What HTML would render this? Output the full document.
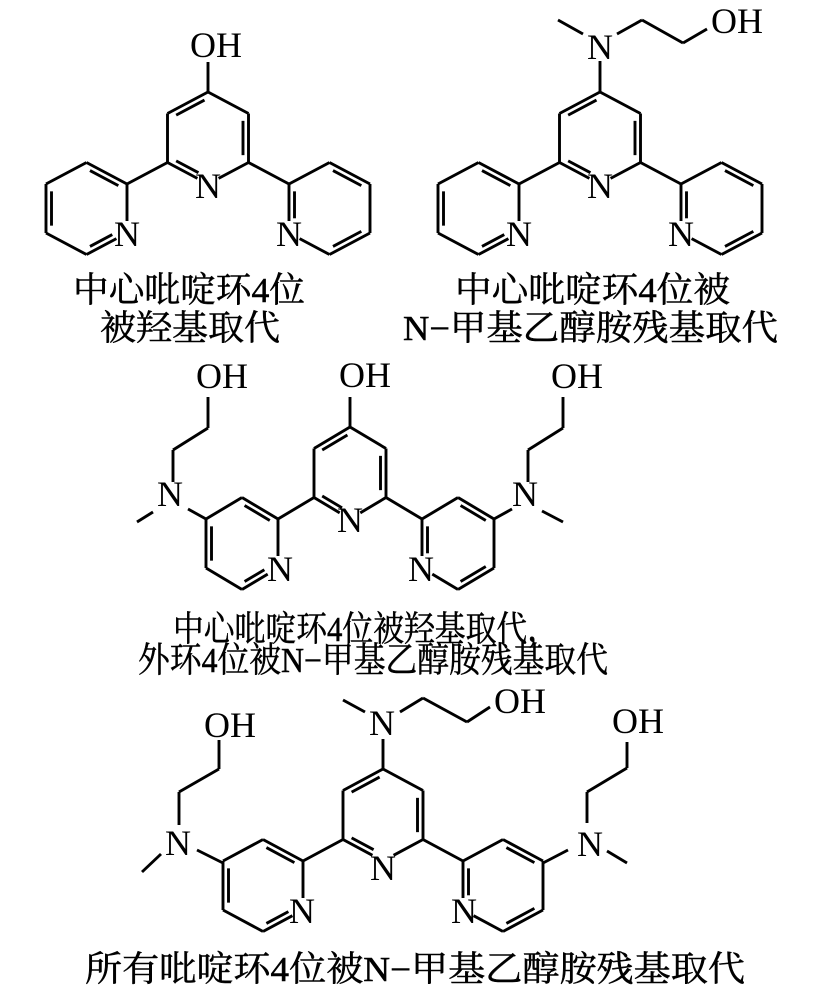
<!DOCTYPE html>
<html><head><meta charset="utf-8"><style>
html,body{margin:0;padding:0;background:#fff;}
svg{display:block;}
.a{font-family:"Liberation Serif",serif;font-size:36px;fill:#000;}
.t{font-family:"Liberation Serif","Noto Serif CJK SC",serif;font-size:35px;fill:#000;stroke:#000;stroke-width:0.5px;}
</style></head><body>
<svg id="s" width="838" height="1000" viewBox="0 0 838 1000" xmlns="http://www.w3.org/2000/svg">
<g id="b" stroke="#000" stroke-width="2.9" fill="none" stroke-linecap="butt"></g>
<!-- mol1 -->
<text class="a" x="190" y="57">OH</text>
<text class="a" x="208" y="198" text-anchor="middle">N</text>
<text class="a" x="127" y="246" text-anchor="middle">N</text>
<text class="a" x="289" y="246" text-anchor="middle">N</text>
<text class="t" x="73" y="302" textLength="232" lengthAdjust="spacingAndGlyphs">中心吡啶环4位</text>
<text class="t" x="100" y="340" textLength="180" lengthAdjust="spacingAndGlyphs">被羟基取代</text>
<!-- mol2 -->
<text class="a" x="600" y="59" text-anchor="middle">N</text>
<text class="a" x="711" y="33">OH</text>
<text class="a" x="600" y="198" text-anchor="middle">N</text>
<text class="a" x="519" y="246" text-anchor="middle">N</text>
<text class="a" x="681" y="246" text-anchor="middle">N</text>
<text class="t" x="455" y="302" textLength="275" lengthAdjust="spacingAndGlyphs">中心吡啶环4位被</text>
<text class="t" x="403" y="340" textLength="375" lengthAdjust="spacingAndGlyphs">N−甲基乙醇胺残基取代</text>
<!-- mol3 -->
<text class="a" x="339" y="387">OH</text>
<text class="a" x="196" y="388">OH</text>
<text class="a" x="551" y="388">OH</text>
<text class="a" x="170" y="506" text-anchor="middle">N</text>
<text class="a" x="525" y="506" text-anchor="middle">N</text>
<text class="a" x="350" y="532" text-anchor="middle">N</text>
<text class="a" x="280" y="581" text-anchor="middle">N</text>
<text class="a" x="421" y="581" text-anchor="middle">N</text>
<text class="t" x="173" y="641" textLength="385" lengthAdjust="spacingAndGlyphs">中心吡啶环4位被羟基取代，</text>
<text class="t" x="138" y="672" textLength="470" lengthAdjust="spacingAndGlyphs">外环4位被N−甲基乙醇胺残基取代</text>
<!-- mol4 -->
<text class="a" x="382" y="735" text-anchor="middle">N</text>
<text class="a" x="494" y="713">OH</text>
<text class="a" x="204" y="737">OH</text>
<text class="a" x="612" y="733">OH</text>
<text class="a" x="178" y="855" text-anchor="middle">N</text>
<text class="a" x="590" y="856" text-anchor="middle">N</text>
<text class="a" x="383" y="880" text-anchor="middle">N</text>
<text class="a" x="302" y="923" text-anchor="middle">N</text>
<text class="a" x="464" y="923" text-anchor="middle">N</text>
<text class="t" x="85" y="981" textLength="660" lengthAdjust="spacingAndGlyphs">所有吡啶环4位被N−甲基乙醇胺残基取代</text>
</svg>
<script>
var g=document.getElementById('b');
function L(x1,y1,x2,y2){var l=document.createElementNS('http://www.w3.org/2000/svg','line');
l.setAttribute('x1',x1);l.setAttribute('y1',y1);l.setAttribute('x2',x2);l.setAttribute('y2',y2);g.appendChild(l);}
function P(a){for(var i=0;i<a.length-2;i+=2)L(a[i],a[i+1],a[i+2],a[i+3]);}
function sh(a,b,d){var dx=b[0]-a[0],dy=b[1]-a[1],l=Math.hypot(dx,dy);return [a[0]+dx/l*d,a[1]+dy/l*d];}
function ring(p,nI,dbl){
 var cx=0,cy=0;p.forEach(function(q){cx+=q[0]/6;cy+=q[1]/6;});
 for(var i=0;i<6;i++){var a=p[i],b=p[(i+1)%6];
  var A=(i==nI)?sh(a,b,12):a,B=((i+1)%6==nI)?sh(b,a,12):b;L(A[0],A[1],B[0],B[1]);
  if(dbl.indexOf(i)>=0){
   var dx=b[0]-a[0],dy=b[1]-a[1],l=Math.hypot(dx,dy),nx=-dy/l,ny=dx/l;
   var mx=(a[0]+b[0])/2-cx,my=(a[1]+b[1])/2-cy;if(nx*mx+ny*my>0){nx=-nx;ny=-ny;}
   var o=5.5,s1=(i==nI)?0.3:0.15,s2=((i+1)%6==nI)?0.3:0.15;
   L(a[0]+dx*s1+nx*o,a[1]+dy*s1+ny*o,b[0]-dx*s2+nx*o,b[1]-dy*s2+ny*o);}
 }}
function terpy(x,y,dx,dy,v){
 var C4=[x,y],C3=[x-dx,y+dy],C2=[x-dx,y+dy+v],N=[x,y+2*dy+v],C6=[x+dx,y+dy+v],C5=[x+dx,y+dy];
 ring([C4,C3,C2,N,C6,C5],3,[0,2,4]);
 var Y1=y+2*dy+v;
 var a=[x-2*dx,Y1],b=[x-3*dx,Y1-dy],c=[x-4*dx,Y1],d=[x-4*dx,Y1+v],e=[x-3*dx,Y1+v+dy],n=[x-2*dx,Y1+v];
 ring([a,b,c,d,e,n],5,[0,2,4]);
 var A=[x+2*dx,Y1],B=[x+3*dx,Y1-dy],Cc=[x+4*dx,Y1],D=[x+4*dx,Y1+v],E=[x+3*dx,Y1+v+dy],Nn=[x+2*dx,Y1+v];
 ring([A,Nn,E,D,Cc,B],1,[0,2,4]);
 L(C2[0],C2[1],a[0],a[1]);L(C6[0],C6[1],A[0],A[1]);
}
terpy(208,92,40.5,21.5,49);L(208,92,208,62);
terpy(600,92,40.5,21.5,49);L(600,92,600,61);
L(583,34,558,20);P([617,34,642,20,683,43,707,29]);
terpy(350,427,36,21.5,49);L(350,427,350,397);
L(206,519,188,509);L(153,512,137,522);P([173,482,173,450,208,428,208,397]);
L(494,519,512,509);L(542,511,563,522);P([528,482,528,450,563,428,563,397]);
terpy(383,769,40,21.5,49);L(383,769,383,739);
L(365,712,343,700);P([400,712,423,698,467,722,490,707]);
L(223,863,197,850);L(161,854,142,872);P([179,825,179,792,219,769,219,740]);
L(543,863,568,850);L(607,851,627,863);P([587,823,587,792,627,768,627,742]);
</script>
</body></html>
